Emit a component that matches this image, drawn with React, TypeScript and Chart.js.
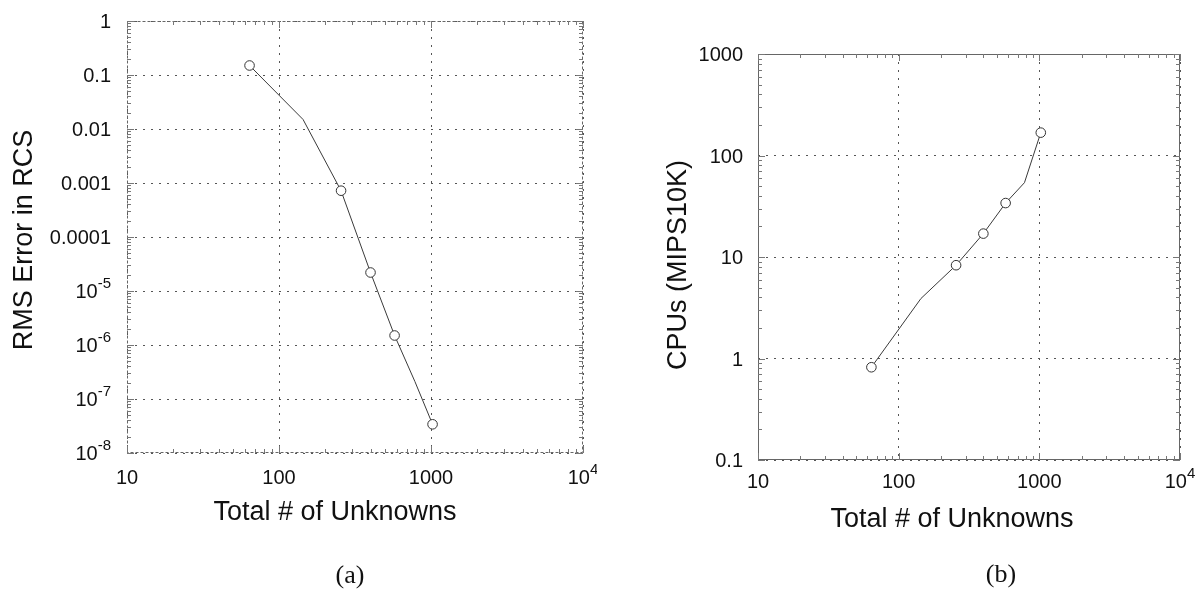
import React, { useEffect, useRef } from 'react';
import { Chart, registerables } from 'chart.js';

Chart.register(...registerables);

// Problem sizes (N x N grids) and the measured results
const unknowns = [64, 144, 256, 400, 576, 784, 1024];
const rmsError = [0.15, 0.015, 7.2e-4, 2.2e-5, 1.5e-6, 2.1e-7, 3.4e-8];
const cpuTime = [0.82, 3.9, 8.3, 17, 34, 54, 168];
const hasMarker = [true, false, true, true, true, false, true];

// Axis tick values and their labels ("^" introduces a superscript)
const xTickValues = [10, 100, 1000, 10000];
const xTickLabels = ['10', '100', '1000', '10^4'];
const errTickValues = [1, 0.1, 0.01, 0.001, 0.0001, 1e-5, 1e-6, 1e-7, 1e-8];
const errTickLabels = ['1', '0.1', '0.01', '0.001', '0.0001', '10^-5', '10^-6', '10^-7', '10^-8'];
const cpuTickValues = [0.1, 1, 10, 100, 1000];
const cpuTickLabels = ['0.1', '1', '10', '100', '1000'];

const SANS = '"Liberation Sans", Arial, Helvetica, sans-serif';
const SERIF = '"Liberation Serif", "Times New Roman", serif';

type PanelCfg = {
  offset: number;
  width: number;
  padding: { left: number; right: number; top: number; bottom: number };
  yMin: number;
  yMax: number;
  values: number[];
  yTickValues: number[];
  yTickLabels: string[];
  yTitle: string;
  yTitlePos: [number, number];
  xTitlePos: [number, number];
  yLabelGap: number;
  xLabelDrop: number;
  frameDash: number[];
};

const isDecade = (v: number) => {
  if (!(v > 0)) return false;
  const l = Math.log10(v);
  return Math.abs(l - Math.round(l)) < 1e-9;
};

function drawTickLabel(
  ctx: CanvasRenderingContext2D,
  text: string,
  x: number,
  y: number,
  align: 'right' | 'center'
) {
  const [base, exp] = text.split('^');
  ctx.font = `20px ${SANS}`;
  const wb = ctx.measureText(base).width;
  let we = 0;
  if (exp) {
    ctx.font = `15px ${SANS}`;
    we = ctx.measureText(exp).width;
  }
  const total = wb + we;
  const x0 = align === 'right' ? x - total : x - total / 2;
  const baseline = y + 7;
  ctx.textAlign = 'left';
  ctx.textBaseline = 'alphabetic';
  ctx.fillStyle = '#111';
  ctx.font = `20px ${SANS}`;
  ctx.fillText(base, x0, baseline);
  if (exp) {
    ctx.font = `15px ${SANS}`;
    ctx.fillText(exp, x0 + wb, baseline - 10);
  }
}

function makeDecorations(cfg: PanelCfg) {
  return {
    id: 'axesDecor',
    afterDraw(chart: Chart) {
      const ctx = chart.ctx;
      const { left, right, top, bottom } = chart.chartArea;
      const xs = chart.scales.x;
      const ys = chart.scales.y;
      ctx.save();

      // box around the plot area
      ctx.strokeStyle = '#666';
      ctx.lineWidth = 1;
      ctx.setLineDash(cfg.frameDash);
      ctx.strokeRect(Math.round(left) + 0.5, Math.round(top) + 0.5, Math.round(right - left) - 1, Math.round(bottom - top) - 1);
      ctx.setLineDash([]);

      // inward tick marks on all four sides
      ctx.strokeStyle = '#777';
      const tick = (x1: number, y1: number, x2: number, y2: number) => {
        ctx.beginPath();
        ctx.moveTo(x1, y1);
        ctx.lineTo(x2, y2);
        ctx.stroke();
      };
      for (let d = -9; d <= 4; d++) {
        for (let k = 1; k <= 9; k++) {
          const v = k * Math.pow(10, d);
          const len = k === 1 ? 7 : 4;
          if (v >= cfg.yMin && v <= cfg.yMax) {
            const py = Math.round(ys.getPixelForValue(v)) + 0.5;
            tick(left, py, left + len, py);
            tick(right, py, right - len, py);
          }
          if (v >= 10 && v <= 10000) {
            const px = Math.round(xs.getPixelForValue(v)) + 0.5;
            tick(px, bottom, px, bottom - len);
            tick(px, top, px, top + len);
          }
        }
      }

      // tick labels
      cfg.yTickValues.forEach((v, i) => {
        drawTickLabel(ctx, cfg.yTickLabels[i], left - cfg.yLabelGap, ys.getPixelForValue(v), 'right');
      });
      xTickValues.forEach((v, i) => {
        drawTickLabel(ctx, xTickLabels[i], xs.getPixelForValue(v), bottom + cfg.xLabelDrop, 'center');
      });

      // axis titles
      ctx.fillStyle = '#111';
      ctx.font = `27px ${SANS}`;
      ctx.textAlign = 'center';
      ctx.textBaseline = 'middle';
      ctx.fillText('Total # of Unknowns', cfg.xTitlePos[0], cfg.xTitlePos[1]);
      ctx.save();
      ctx.translate(cfg.yTitlePos[0], cfg.yTitlePos[1]);
      ctx.rotate(-Math.PI / 2);
      ctx.fillText(cfg.yTitle, 0, 0);
      ctx.restore();

      ctx.restore();
    },
  };
}

function Panel({ cfg }: { cfg: PanelCfg }) {
  const ref = useRef<HTMLCanvasElement>(null);
  useEffect(() => {
    const canvas = ref.current;
    if (!canvas) return;
    const gridColor = (c: any) => (isDecade(c.tick?.value) ? '#555' : 'rgba(0,0,0,0)');
    const chart = new Chart(canvas, {
      type: 'line',
      data: {
        datasets: [
          {
            data: unknowns.map((u, i) => ({ x: u, y: cfg.values[i] })),
            borderColor: '#3a3a3a',
            borderWidth: 1,
            tension: 0,
            fill: false,
            pointRadius: hasMarker.map((m) => (m ? 4.8 : 0)),
            pointHoverRadius: hasMarker.map((m) => (m ? 4.8 : 0)),
            pointBorderColor: '#333',
            pointBackgroundColor: '#fff',
            pointBorderWidth: 1,
          },
        ],
      },
      options: {
        responsive: false,
        animation: false,
        devicePixelRatio: 1,
        layout: { padding: cfg.padding },
        plugins: { legend: { display: false }, tooltip: { enabled: false } },
        events: [],
        scales: {
          x: {
            type: 'logarithmic',
            min: 10,
            max: 10000,
            ticks: { display: false, autoSkip: false },
            grid: { color: gridColor, lineWidth: 1, drawTicks: false },
            border: { display: false, dash: [2, 6] },
          },
          y: {
            type: 'logarithmic',
            min: cfg.yMin,
            max: cfg.yMax,
            ticks: { display: false, autoSkip: false },
            grid: { color: gridColor, lineWidth: 1, drawTicks: false },
            border: { display: false, dash: [2, 6] },
          },
        },
      },
      plugins: [makeDecorations(cfg)],
    } as any);
    return () => chart.destroy();
  }, [cfg]);
  return (
    <canvas
      ref={ref}
      width={cfg.width}
      height={590}
      style={{ position: 'absolute', left: cfg.offset, top: 0, width: cfg.width, height: 590 }}
    />
  );
}

const errorPanel: PanelCfg = {
  offset: 0,
  width: 597,
  padding: { left: 127, right: 14, top: 21, bottom: 137 },
  yMin: 1e-8,
  yMax: 1,
  values: rmsError,
  yTickValues: errTickValues,
  yTickLabels: errTickLabels,
  yTitle: 'RMS Error in RCS',
  yTitlePos: [25, 240],
  xTitlePos: [335, 513],
  yLabelGap: 16,
  xLabelDrop: 24,
  frameDash: [3, 2],
};

const cpuPanel: PanelCfg = {
  offset: 597,
  width: 598,
  padding: { left: 161, right: 15, top: 54, bottom: 130 },
  yMin: 0.1,
  yMax: 1000,
  values: cpuTime,
  yTickValues: cpuTickValues,
  yTickLabels: cpuTickLabels,
  yTitle: 'CPUs (MIPS10K)',
  yTitlePos: [82, 265],
  xTitlePos: [355, 520],
  yLabelGap: 15,
  xLabelDrop: 21,
  frameDash: [],
};

const captionStyle = (x: number, y: number): React.CSSProperties => ({
  position: 'absolute',
  left: x,
  top: y,
  transform: 'translate(-50%, -50%)',
  font: `26px ${SERIF}`,
  lineHeight: 1,
  color: '#111',
  whiteSpace: 'nowrap',
});

export default function App() {
  return (
    <div style={{ position: 'absolute', left: 0, top: 0, width: 1195, height: 590, background: '#fff', overflow: 'hidden' }}>
      <Panel cfg={errorPanel} />
      <Panel cfg={cpuPanel} />
      <div style={captionStyle(350, 575)}>(a)</div>
      <div style={captionStyle(1001, 574)}>(b)</div>
    </div>
  );
}
